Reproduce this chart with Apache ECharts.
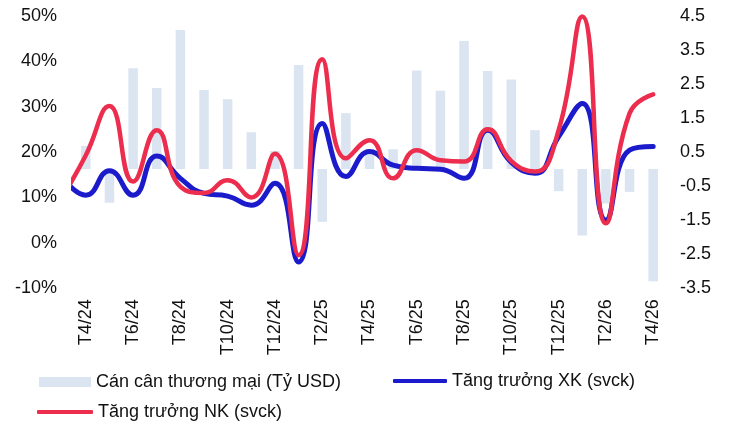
<!DOCTYPE html>
<html>
<head>
<meta charset="utf-8">
<script src="https://cdn.jsdelivr.net/npm/echarts@6/dist/echarts.min.js"></script>
<style>
html,body{margin:0;padding:0;background:#fff;}
#chart{width:732px;height:425px;}
</style>
</head>
<body>
<div id="chart"></div>
<script>
// Categories (months)
const categories = ['T4/24','T5/24','T6/24','T7/24','T8/24','T9/24','T10/24','T11/24','T12/24',
  'T1/25','T2/25','T3/25','T4/25','T5/25','T6/25','T7/25','T8/25','T9/25','T10/25','T11/25','T12/25',
  'T1/26','T2/26','T3/26','T4/26'];
// Trade balance (billion USD) - right axis
const tradeBalance = [0.68,-0.99,2.96,2.38,4.08,2.32,2.05,1.08,0.53,3.05,-1.55,1.64,0.55,0.58,2.89,2.30,3.76,2.88,2.63,1.14,-0.65,-1.95,-1.01,-0.67,-3.29];
// Growth lines (% yoy) - left axis; the line also starts from the previous month (T3/24), clipped at plot edge
const priorMonth = 'T3/24';
const exportGrowthPrior = 14.5;
const importGrowthPrior = 10.0;
const exportGrowth = [10.5,15.9,10.5,19.1,14.2,10.9,10.3,8.3,13.1,-4.2,26.3,14.6,20.1,17.1,16.4,16.2,14.2,24.8,17.7,15.3,23.4,30.7,5.0,20.4,21.2];
const importGrowth = [19.3,30.1,13.5,24.8,12.4,11.0,13.8,10.0,19.6,-2.7,40.4,18.6,22.6,14.2,20.4,18.2,17.9,25.0,18.0,15.7,24.8,49.8,4.3,28.5,32.7];
// Axis ticks
const leftTicks = {min: -10, max: 50, interval: 10};
const rightTicks = {min: -3.5, max: 4.5, interval: 1};
const seriesNames = ['Cán cân thương mại (Tỷ USD)', 'Tăng trưởng XK (svck)', 'Tăng trưởng NK (svck)'];

const FONT = 'Liberation Sans, Arial, sans-serif';
const TXT = '#111111';
const BAR_C = '#dbe4f1', XK_C = '#1b1bcc', NK_C = '#ec2d4d';

const toPoints = (prior, arr) => [prior, ...arr].map((v, k) => [k - 1, v]);
const legendText = {fontSize: 18, color: TXT, fontFamily: FONT};

const chart = echarts.init(document.getElementById('chart'), null, {renderer: 'canvas'});
chart.setOption({
  animation: false,
  backgroundColor: '#ffffff',
  grid: {left: 74, right: 67, top: 15.7, height: 272.6},
  legend: [
    {left: 34, top: 368, itemWidth: 52, itemHeight: 10, icon: 'rect',
     data: [seriesNames[0]], textStyle: legendText},
    {left: 388, top: 367, itemWidth: 54, itemHeight: 4, icon: 'roundRect',
     data: [seriesNames[1]], textStyle: legendText},
    {left: 32, top: 398, itemWidth: 56, itemHeight: 4, icon: 'roundRect',
     data: [seriesNames[2]], textStyle: legendText}
  ],
  xAxis: [
    {type: 'category', data: categories, boundaryGap: true,
     axisLine: {show: false}, axisTick: {show: false}, splitLine: {show: false},
     axisLabel: {interval: 1, rotate: 90, margin: 11, fontSize: 18, color: TXT, fontFamily: FONT}},
    {type: 'value', min: -0.5, max: categories.length - 0.5, show: false}
  ],
  yAxis: [
    {type: 'value', position: 'left', min: leftTicks.min, max: leftTicks.max, interval: leftTicks.interval,
     axisLine: {show: false}, axisTick: {show: false}, splitLine: {show: false},
     axisLabel: {margin: 17, fontSize: 18, color: TXT, fontFamily: FONT, formatter: v => v + '%'}},
    {type: 'value', position: 'right', min: rightTicks.min, max: rightTicks.max, interval: rightTicks.interval,
     axisLine: {show: false}, axisTick: {show: false}, splitLine: {show: false},
     axisLabel: {margin: 15, fontSize: 18, color: TXT, fontFamily: FONT, formatter: v => v.toFixed(1)}}
  ],
  series: [
    {name: seriesNames[0], type: 'bar', xAxisIndex: 0, yAxisIndex: 1, data: tradeBalance,
     barWidth: 9.5, itemStyle: {color: BAR_C}},
    {name: seriesNames[1], type: 'line', xAxisIndex: 1, yAxisIndex: 0, data: toPoints(exportGrowthPrior, exportGrowth),
     smooth: 0.5, symbol: 'none', clip: true, lineStyle: {color: XK_C, width: 5, cap: 'round', join: 'round'}, itemStyle: {color: XK_C}},
    {name: seriesNames[2], type: 'line', xAxisIndex: 1, yAxisIndex: 0, data: toPoints(importGrowthPrior, importGrowth),
     smooth: 0.5, symbol: 'none', clip: true, lineStyle: {color: NK_C, width: 4.5, cap: 'round', join: 'round'}, itemStyle: {color: NK_C}}
  ]
});
</script>
</body>
</html>
